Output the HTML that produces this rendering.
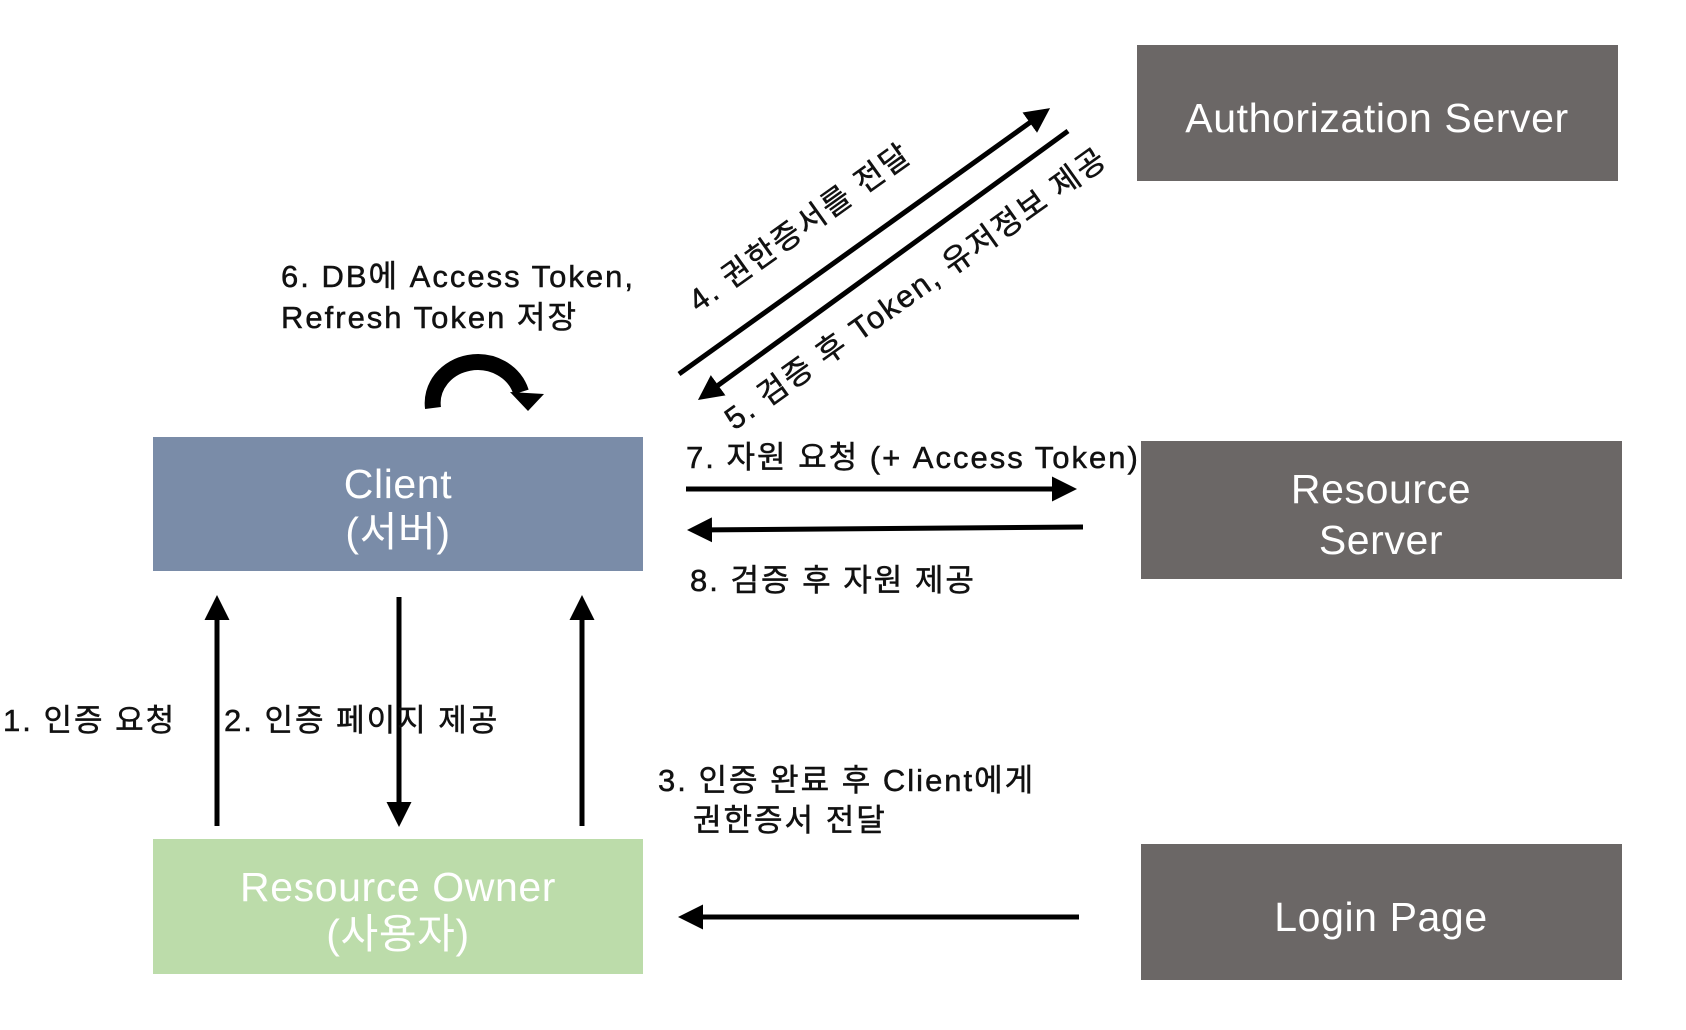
<!DOCTYPE html>
<html><head><meta charset="utf-8"><style>
html,body{margin:0;padding:0;background:#fff;width:1686px;height:1030px;overflow:hidden}
svg{display:block}
text{font-family:"Liberation Sans","Noto Sans CJK KR",sans-serif}
</style></head><body>
<svg width="1686" height="1030" viewBox="0 0 1686 1030" xmlns="http://www.w3.org/2000/svg">
<defs>
<marker id="ah" markerWidth="5" markerHeight="5" refX="4" refY="2.5" orient="auto" markerUnits="strokeWidth">
<path d="M0,0 L5,2.5 L0,5 z" fill="#000"/>
</marker>
</defs>
<rect x="1137" y="45" width="481" height="136" fill="#6b6766"/>
<rect x="1141" y="441" width="481" height="138" fill="#6b6766"/>
<rect x="1141" y="844" width="481" height="136" fill="#6b6766"/>
<rect x="153" y="437" width="490" height="134" fill="#7a8ca8"/>
<rect x="153" y="839" width="490" height="135" fill="#bcdcaa"/>
<g fill="#fff" font-size="41" text-anchor="middle" letter-spacing="0.6">
<text x="1377" y="132">Authorization Server</text>
<text x="1381" y="503">Resource</text>
<text x="1381" y="554">Server</text>
<text x="1381" y="931">Login Page</text>
<text x="398" y="498">Client</text>
<text x="398" y="546">(서버)</text>
<text x="398" y="901">Resource Owner</text>
<text x="398" y="948">(사용자)</text>
</g>
<g stroke="#000" stroke-width="5" fill="none">
<line x1="679" y1="374" x2="1046" y2="111" marker-end="url(#ah)"/>
<line x1="1068" y1="131" x2="702" y2="397" marker-end="url(#ah)"/>
<line x1="686" y1="489" x2="1072" y2="489" marker-end="url(#ah)"/>
<line x1="1083" y1="527" x2="692" y2="530" marker-end="url(#ah)"/>
<line x1="217" y1="826" x2="217" y2="600" marker-end="url(#ah)"/>
<line x1="399" y1="597" x2="399" y2="822" marker-end="url(#ah)"/>
<line x1="582" y1="826" x2="582" y2="600" marker-end="url(#ah)"/>
<line x1="1079" y1="917" x2="683" y2="917" marker-end="url(#ah)"/>
<path d="M433,408 A45,41 0 0 1 521,392" stroke-width="16"/>
</g>
<path d="M510,392 L544,394 L528,411 z" fill="#000"/>
<g fill="#111" stroke="#111" stroke-width="0.5" font-size="31" letter-spacing="2">
<text x="281" y="287">6. DB에 Access Token,</text>
<text x="281" y="328">Refresh Token 저장</text>
<text x="686" y="468">7. 자원 요청 (+ Access Token)</text>
<text x="690" y="591">8. 검증 후 자원 제공</text>
<text x="3" y="731">1. 인증 요청</text>
<text x="224" y="731">2. 인증 페이지 제공</text>
<text x="658" y="791">3. 인증 완료 후 Client에게</text>
<text x="693" y="831">권한증서 전달</text>
<text transform="translate(806,236) rotate(-35.5)" text-anchor="middle">4. 권한증서를 전달</text>
<text transform="translate(922,297) rotate(-35.5)" text-anchor="middle">5. 검증 후 Token, 유저정보 제공</text>
</g>
</svg>
</body></html>
